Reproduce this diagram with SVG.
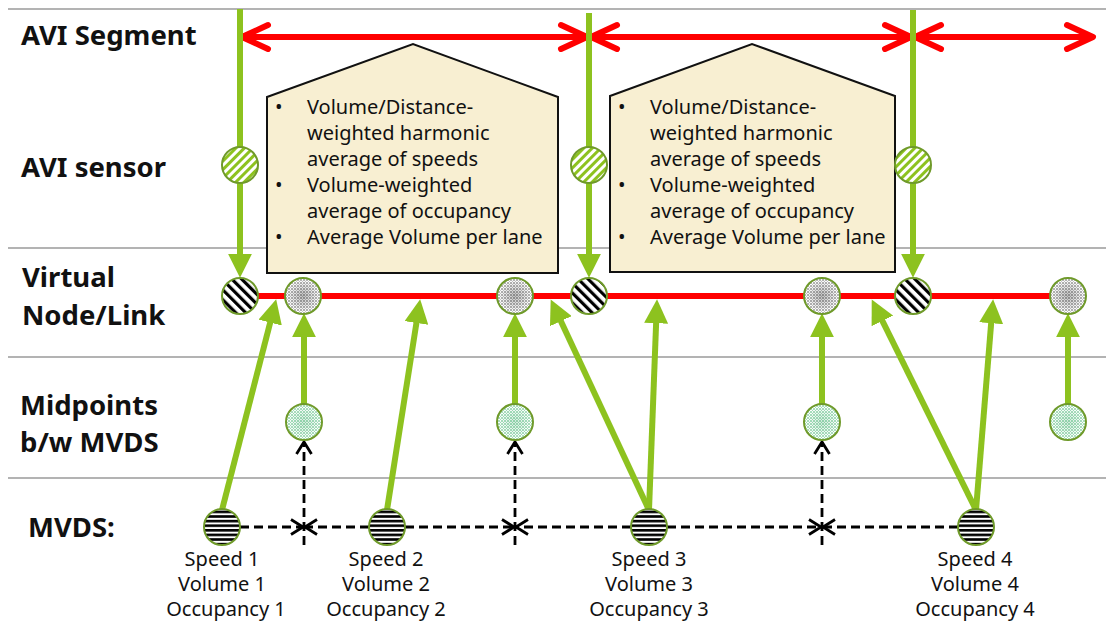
<svg xmlns="http://www.w3.org/2000/svg" width="1106" height="625" viewBox="0 0 1106 625">
<style>
.lbl{font-family:"Noto Sans","Open Sans",sans-serif;font-weight:bold;font-size:27.5px;fill:#111}
.box{fill:#f8efd2;stroke:#111;stroke-width:2}
.bt{font-family:"Noto Sans","Open Sans",sans-serif;font-size:20px;fill:#111}
.ml{font-family:"Noto Sans","Open Sans",sans-serif;font-size:20px;fill:#111;text-anchor:middle}
.grid{stroke:#9a9a9a;stroke-width:1.6}
.red{stroke:#ff0000;stroke-width:6;fill:none}
.grn{stroke:#8dc21f;stroke-width:6;fill:none}
.dash{stroke:#000;stroke-width:2.8;stroke-dasharray:9 5;fill:none}
.ring{stroke:#6f9a2a;stroke-width:2}
</style>
<defs>
<pattern id="hg" patternUnits="userSpaceOnUse" width="6" height="6" patternTransform="rotate(45)"><rect width="6" height="6" fill="#fff"/><rect width="3" height="6" fill="#8dc21f"/></pattern>
<pattern id="hb" patternUnits="userSpaceOnUse" width="7" height="7" patternTransform="rotate(-45)"><rect width="7" height="7" fill="#fff"/><rect width="3.2" height="7" fill="#000"/></pattern>
<pattern id="hs" patternUnits="userSpaceOnUse" width="6" height="4.6"><rect width="6" height="4.6" fill="#fff"/><rect width="6" height="2.6" fill="#000"/></pattern>
<pattern id="dg" patternUnits="userSpaceOnUse" width="3" height="3"><rect width="3" height="3" fill="#fff"/><circle cx="1" cy="1" r="0.75" fill="#444"/><circle cx="2.5" cy="2.3" r="0.45" fill="#777"/></pattern>
<pattern id="dn" patternUnits="userSpaceOnUse" width="3" height="3"><rect width="3" height="3" fill="#fff"/><circle cx="1" cy="1" r="0.8" fill="#3fb46e"/><circle cx="2.5" cy="2.3" r="0.5" fill="#6cc98f"/></pattern>
<radialGradient id="shade"><stop offset="0" stop-color="#000" stop-opacity="0.25"/><stop offset="1" stop-color="#000" stop-opacity="0"/></radialGradient>
<radialGradient id="gshade"><stop offset="0" stop-color="#1a9a50" stop-opacity="0.2"/><stop offset="1" stop-color="#1a9a50" stop-opacity="0"/></radialGradient>
<marker id="ga" markerUnits="userSpaceOnUse" markerWidth="24" markerHeight="24" viewBox="0 0 22 22" refX="14" refY="11" orient="auto"><path d="M0,0 L22,11 L0,22 Z" fill="#8dc21f"/></marker>
<marker id="ra" markerUnits="userSpaceOnUse" markerWidth="40" markerHeight="40" viewBox="-32 -20 40 40" refX="0" refY="0" orient="auto-start-reverse" overflow="visible"><path d="M-26,-12 L0,0 L-26,12" fill="none" stroke="#ff0000" stroke-width="6" stroke-linecap="round" stroke-linejoin="round"/></marker>
<marker id="da" markerUnits="userSpaceOnUse" markerWidth="18" markerHeight="18" viewBox="-15 -9 18 18" refX="0" refY="0" orient="auto" overflow="visible"><path d="M-12,-7.5 L0,0 L-12,7.5" fill="none" stroke="#000" stroke-width="2.8"/></marker>
</defs>
<rect width="1106" height="625" fill="#fff"/>
<g id="grid">
<line class="grid" x1="8" y1="9" x2="1106" y2="9"/>
<line class="grid" x1="8" y1="248" x2="1106" y2="248"/>
<line class="grid" x1="8" y1="357" x2="1106" y2="357"/>
<line class="grid" x1="8" y1="478" x2="1106" y2="478"/>
</g>
<g id="row-labels">
<text class="lbl" x="21" y="45">AVI Segment</text>
<text class="lbl" x="21" y="177">AVI sensor</text>
<text class="lbl"><tspan x="22" y="287">Virtual</tspan><tspan x="22" y="325">Node/Link</tspan></text>
<text class="lbl"><tspan x="20" y="415">Midpoints</tspan><tspan x="20" y="452">b/w MVDS</tspan></text>
<text class="lbl" x="28" y="537">MVDS:</text>
</g>
<g id="box1">
<polygon class="box" points="267,97 413,44 558,97 558,273 267,273"/>
<text class="bt"><tspan x="275" y="114">•</tspan><tspan x="307" y="114">Volume/Distance-</tspan><tspan x="307" y="140">weighted harmonic</tspan><tspan x="307" y="166">average of speeds</tspan><tspan x="275" y="192">•</tspan><tspan x="307" y="192">Volume-weighted</tspan><tspan x="307" y="218">average of occupancy</tspan><tspan x="275" y="244">•</tspan><tspan x="307" y="244">Average Volume per lane</tspan></text>
</g>
<g id="box2">
<polygon class="box" points="610,96 752,44 895,96 895,272 610,272"/>
<text class="bt"><tspan x="618" y="114">•</tspan><tspan x="650" y="114">Volume/Distance-</tspan><tspan x="650" y="140">weighted harmonic</tspan><tspan x="650" y="166">average of speeds</tspan><tspan x="618" y="192">•</tspan><tspan x="650" y="192">Volume-weighted</tspan><tspan x="650" y="218">average of occupancy</tspan><tspan x="618" y="244">•</tspan><tspan x="650" y="244">Average Volume per lane</tspan></text>
</g>
<g id="connectors">
<line class="red" x1="242" y1="37" x2="587" y2="37" marker-start="url(#ra)" marker-end="url(#ra)"/>
<line class="red" x1="591" y1="37" x2="911" y2="37" marker-start="url(#ra)" marker-end="url(#ra)"/>
<line class="red" x1="915" y1="37" x2="1093" y2="37" marker-start="url(#ra)" marker-end="url(#ra)"/>
<line class="grn" x1="240" y1="9" x2="240" y2="269" marker-end="url(#ga)"/>
<line class="grn" x1="589" y1="13" x2="589" y2="269" marker-end="url(#ga)"/>
<line class="grn" x1="913" y1="10" x2="913" y2="269" marker-end="url(#ga)"/>
<line class="red" x1="240" y1="296" x2="1068" y2="296"/>
<line class="grn" x1="222" y1="510" x2="274" y2="307.8" marker-end="url(#ga)"/>
<line class="grn" x1="387" y1="510" x2="418.8" y2="307.9" marker-end="url(#ga)"/>
<line class="grn" x1="649" y1="510" x2="554.4" y2="307.3" marker-end="url(#ga)"/>
<line class="grn" x1="649" y1="510" x2="656.7" y2="308" marker-end="url(#ga)"/>
<line class="grn" x1="976" y1="510" x2="875.6" y2="307.2" marker-end="url(#ga)"/>
<line class="grn" x1="976" y1="510" x2="992.4" y2="308" marker-end="url(#ga)"/>
<line class="grn" x1="304" y1="404" x2="304" y2="322" marker-end="url(#ga)"/>
<line class="grn" x1="515" y1="404" x2="515" y2="322" marker-end="url(#ga)"/>
<line class="grn" x1="822" y1="404" x2="822" y2="322" marker-end="url(#ga)"/>
<line class="grn" x1="1068" y1="404" x2="1068" y2="322" marker-end="url(#ga)"/>
<line class="dash" x1="240" y1="527" x2="303" y2="527" marker-end="url(#da)"/>
<line class="dash" x1="369" y1="527" x2="305" y2="527" marker-end="url(#da)"/>
<line class="dash" x1="405" y1="527" x2="514" y2="527" marker-end="url(#da)"/>
<line class="dash" x1="631" y1="527" x2="516" y2="527" marker-end="url(#da)"/>
<line class="dash" x1="667" y1="527" x2="821" y2="527" marker-end="url(#da)"/>
<line class="dash" x1="958" y1="527" x2="823" y2="527" marker-end="url(#da)"/>
<line class="dash" x1="304" y1="545" x2="304" y2="442" marker-end="url(#da)"/>
<line class="dash" x1="515" y1="545" x2="515" y2="442" marker-end="url(#da)"/>
<line class="dash" x1="822" y1="545" x2="822" y2="442" marker-end="url(#da)"/>
</g>
<g id="avi-sensor-1"><circle class="ring" cx="240" cy="165" r="18" fill="url(#hg)"/></g>
<g id="avi-sensor-2"><circle class="ring" cx="589" cy="165" r="18" fill="url(#hg)"/></g>
<g id="avi-sensor-3"><circle class="ring" cx="913" cy="165" r="18" fill="url(#hg)"/></g>
<g id="vnode-1"><circle class="ring" cx="240" cy="296" r="18" fill="url(#hb)"/></g>
<g id="vnode-2"><circle class="ring" cx="303" cy="296" r="18" fill="url(#dg)"/><circle cx="303" cy="296" r="16" fill="url(#shade)"/></g>
<g id="vnode-3"><circle class="ring" cx="515" cy="296" r="18" fill="url(#dg)"/><circle cx="515" cy="296" r="16" fill="url(#shade)"/></g>
<g id="vnode-4"><circle class="ring" cx="589" cy="296" r="18" fill="url(#hb)"/></g>
<g id="vnode-5"><circle class="ring" cx="822" cy="296" r="18" fill="url(#dg)"/><circle cx="822" cy="296" r="16" fill="url(#shade)"/></g>
<g id="vnode-6"><circle class="ring" cx="913" cy="296" r="18" fill="url(#hb)"/></g>
<g id="vnode-7"><circle class="ring" cx="1068" cy="296" r="18" fill="url(#dg)"/><circle cx="1068" cy="296" r="16" fill="url(#shade)"/></g>
<g id="mid-1"><circle class="ring" cx="304" cy="422" r="18" fill="url(#dn)"/><circle cx="304" cy="422" r="16" fill="url(#gshade)"/></g>
<g id="mid-2"><circle class="ring" cx="515" cy="422" r="18" fill="url(#dn)"/><circle cx="515" cy="422" r="16" fill="url(#gshade)"/></g>
<g id="mid-3"><circle class="ring" cx="822" cy="422" r="18" fill="url(#dn)"/><circle cx="822" cy="422" r="16" fill="url(#gshade)"/></g>
<g id="mid-4"><circle class="ring" cx="1068" cy="422" r="18" fill="url(#dn)"/><circle cx="1068" cy="422" r="16" fill="url(#gshade)"/></g>
<g id="mvds-1"><circle class="ring" cx="222" cy="527" r="18" fill="url(#hs)"/><text class="ml"><tspan x="222" y="566">Speed 1</tspan><tspan x="222" y="591">Volume 1</tspan><tspan x="226" y="616">Occupancy 1</tspan></text></g>
<g id="mvds-2"><circle class="ring" cx="387" cy="527" r="18" fill="url(#hs)"/><text class="ml"><tspan x="386" y="566">Speed 2</tspan><tspan x="386" y="591">Volume 2</tspan><tspan x="386" y="616">Occupancy 2</tspan></text></g>
<g id="mvds-3"><circle class="ring" cx="649" cy="527" r="18" fill="url(#hs)"/><text class="ml"><tspan x="649" y="566">Speed 3</tspan><tspan x="649" y="591">Volume 3</tspan><tspan x="649" y="616">Occupancy 3</tspan></text></g>
<g id="mvds-4"><circle class="ring" cx="976" cy="527" r="18" fill="url(#hs)"/><text class="ml"><tspan x="975" y="566">Speed 4</tspan><tspan x="975" y="591">Volume 4</tspan><tspan x="975" y="616">Occupancy 4</tspan></text></g>
</svg>
